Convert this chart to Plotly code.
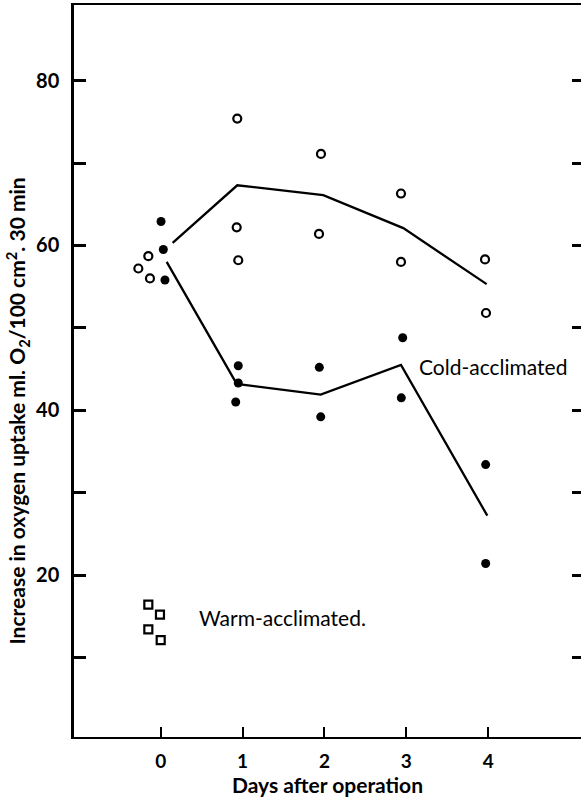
import plotly.graph_objects as go

# ---- data ----
# open circles
open_x = [-0.151, -0.273, -0.131, 0.935, 0.928, 0.947, 1.957, 1.933, 2.934, 2.934, 3.960, 3.972]
open_y = [58.7, 57.2, 56.0, 75.4, 62.2, 58.2, 71.1, 61.4, 66.3, 58.0, 58.3, 51.8]
# filled circles
filled_x = [0.004, 0.032, 0.052, 0.947, 0.947, 0.916, 1.937, 1.954, 2.955, 2.938, 3.968, 3.968]
filled_y = [62.9, 59.5, 55.8, 45.4, 43.3, 41.0, 45.2, 39.2, 48.8, 41.5, 33.4, 21.4]
# warm-acclimated squares
warm_x = [-0.151, -0.009, -0.151, 0.0]
warm_y = [16.4, 15.2, 13.4, 12.1]
# mean lines
upper_x = [0.146, 0.935, 1.985, 2.962, 3.980]
upper_y = [60.3, 67.3, 66.1, 62.1, 55.3]
lower_x = [0.073, 0.928, 1.954, 2.934, 3.988]
lower_y = [58.0, 43.2, 41.9, 45.5, 27.2]

x_ticks = [0, 1, 2, 3, 4]
y_major = [20, 40, 60, 80]
y_minor = [10, 30, 50, 70]
y_all = [10, 20, 30, 40, 50, 60, 70, 80]

FONT = "Lato"
BLACK = "#000000"

fig = go.Figure()
fig.add_trace(go.Scatter(x=upper_x, y=upper_y, mode="lines",
                         line=dict(color=BLACK, width=2.3), showlegend=False))
fig.add_trace(go.Scatter(x=lower_x, y=lower_y, mode="lines",
                         line=dict(color=BLACK, width=2.3), showlegend=False))
fig.add_trace(go.Scatter(x=open_x, y=open_y, mode="markers",
                         marker=dict(symbol="circle-open", size=8, color=BLACK,
                                     line=dict(width=2.2, color=BLACK)),
                         showlegend=False))
fig.add_trace(go.Scatter(x=filled_x, y=filled_y, mode="markers",
                         marker=dict(symbol="circle", size=9, color=BLACK),
                         showlegend=False))
fig.add_trace(go.Scatter(x=warm_x, y=warm_y, mode="markers",
                         marker=dict(symbol="square-open", size=8, color=BLACK,
                                     line=dict(width=2.2, color=BLACK)),
                         showlegend=False))
# invisible trace for the right-hand tick axis
fig.add_trace(go.Scatter(x=[None], y=[None], yaxis="y2", showlegend=False))

fig.update_layout(
    width=581, height=799,
    margin=dict(l=74, r=0, t=5, b=62),
    paper_bgcolor="white", plot_bgcolor="white",
    font=dict(family=FONT, color=BLACK),
    xaxis=dict(range=[-1.0586, 5.132], tickvals=x_ticks, ticktext=[str(v) for v in x_ticks],
               ticks="inside", ticklen=10, tickwidth=2, tickcolor=BLACK,
               showline=True, linewidth=2, linecolor=BLACK, mirror=True,
               showgrid=False, zeroline=False,
               tickfont=dict(family=FONT, size=19, color=BLACK, weight="bold"),
               ticklabelstandoff=6,
               title=dict(text="Days after operation", standoff=6,
                          font=dict(family=FONT, size=21, color=BLACK, weight="bold"))),
    yaxis=dict(range=[0.34, 89.18], tickvals=y_major, ticktext=[str(v) for v in y_major],
               ticks="inside", ticklen=12, tickwidth=2.5, tickcolor=BLACK,
               minor=dict(tickvals=y_minor, ticks="inside", ticklen=12, tickwidth=2.5,
                          tickcolor=BLACK, showgrid=False),
               showline=True, linewidth=2.5, linecolor=BLACK, mirror=False,
               showgrid=False, zeroline=False,
               tickfont=dict(family=FONT, size=20, color=BLACK, weight="bold"),
               ticklabelstandoff=8),
    yaxis2=dict(range=[0.34, 89.18], overlaying="y", side="right",
                tickvals=y_all, showticklabels=False,
                ticks="inside", ticklen=9, tickwidth=2.5, tickcolor=BLACK,
                showline=False, showgrid=False, zeroline=False),
)

fig.add_annotation(xref="paper", yref="paper", x=-0.1124, y=0.4447,
                   text="Increase in oxygen uptake ml. O<sub>2</sub>/100 cm<sup>2</sup>. 30 min",
                   textangle=-90, showarrow=False, xanchor="center", yanchor="middle",
                   font=dict(family=FONT, size=21, color=BLACK, weight="bold"))
fig.add_annotation(x=3.132, y=45.3, text="Cold-acclimated", showarrow=False,
                   xanchor="left", yanchor="middle",
                   font=dict(family=FONT, size=21, color=BLACK))
fig.add_annotation(x=0.44, y=14.9, text="Warm-acclimated.", showarrow=False,
                   xanchor="left", yanchor="middle",
                   font=dict(family=FONT, size=21, color=BLACK))

fig.write_html("out.html", config={"displayModeBar": False},
               post_script="document.body.style.margin='0';")
